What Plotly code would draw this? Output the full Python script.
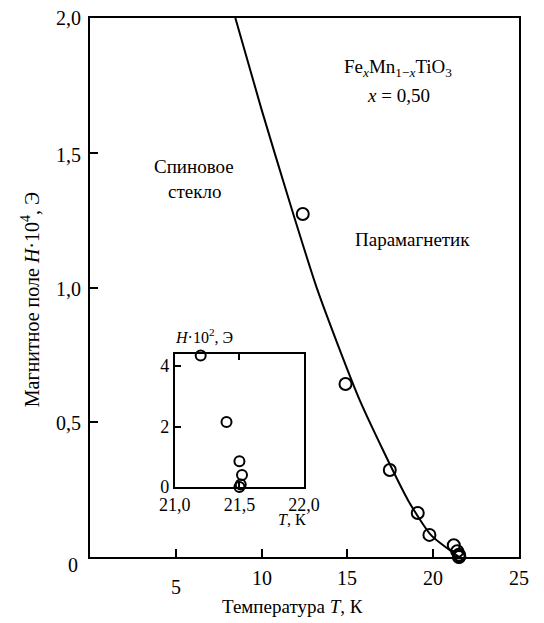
import plotly.graph_objects as go

# Fitted phase boundary H(T) (H in 10^4 Oe)
curve_T = [8.47, 10.0, 11.57, 13.26, 15.73, 18.54, 19.89, 21.35, 21.5]
curve_H = [2.0, 1.66, 1.33, 0.99, 0.58, 0.21, 0.08, 0.007, 0.0]

# Measured points, main panel (H in 10^4 Oe)
meas_T = [12.4, 14.89, 17.47, 19.1, 19.78]
meas_H = [1.273, 0.642, 0.323, 0.163, 0.082]

# Low-field points near T_f (H in 10^2 Oe), shown in the inset and in the main panel
low_T = [21.2, 21.4, 21.5, 21.52, 21.51, 21.5]
low_H = [4.35, 2.15, 0.85, 0.4, 0.08, 0.0]

x_ticks = [5, 10, 15, 20, 25]
x_ticktext = ["5", "10", "15", "20", "25"]
y_ticks = [0, 0.5, 1.0, 1.5, 2.0]
y_ticktext = ["0", "0,5", "1,0", "1,5", "2,0"]
inset_x_ticks = [21.0, 21.5, 22.0]
inset_x_ticktext = ["21,0", "21,5", "22,0"]
inset_y_ticks = [0, 2, 4]
inset_y_ticktext = ["0", "2", "4"]

W, H = 544, 623
L, R, T, B = 90, 9, 18, 66
PW, PH = W - L - R, H - T - B
FONT = "Liberation Serif, Times New Roman, serif"


def px(x, y):
    """Pixel position -> paper coordinates."""
    return (x - L) / PW, (H - B - y) / PH


fig = go.Figure()

fig.add_trace(go.Scatter(
    x=curve_T, y=curve_H, mode="lines", line=dict(color="black", width=2, shape="spline", smoothing=0.6),
    xaxis="x", yaxis="y", hoverinfo="skip", cliponaxis=True))

main_low_H = [v / 100 for v in low_H]
fig.add_trace(go.Scatter(
    x=meas_T + low_T, y=meas_H + main_low_H, mode="markers",
    marker=dict(symbol="circle-open", size=12, color="black", line=dict(width=2)),
    xaxis="x", yaxis="y", cliponaxis=False))

fig.add_trace(go.Scatter(
    x=low_T, y=low_H, mode="markers",
    marker=dict(symbol="circle-open", size=10, color="black", line=dict(width=2)),
    xaxis="x2", yaxis="y2", cliponaxis=False))

axis_common = dict(showgrid=False, zeroline=False, showline=True, linecolor="black",
                   linewidth=2, ticks="inside", tickcolor="black", tickwidth=1.5,
                   tickfont=dict(family=FONT, size=18, color="black"))

x0, x1 = px(178, 0)[0], px(312, 0)[0]
y0, y1 = px(0, 487)[1], px(0, 354)[1]

fig.update_layout(
    width=W, height=H,
    margin=dict(l=L, r=R, t=T, b=B),
    paper_bgcolor="white", plot_bgcolor="white",
    showlegend=False,
    font=dict(family=FONT, size=18, color="black"),
    xaxis=dict(axis_common, range=[0, 25], tickvals=x_ticks[:-1], showticklabels=False,
               ticklen=8, mirror=True),
    yaxis=dict(axis_common, range=[0, 2.0], tickvals=y_ticks[1:-1], showticklabels=False,
               ticklen=8, mirror=True),
    xaxis2=dict(axis_common, domain=[x0, x1], anchor="y2", range=[21.0, 22.0],
                tickvals=inset_x_ticks, ticktext=inset_x_ticktext, ticklen=6,
                mirror="ticks", tickfont=dict(family=FONT, size=18, color="black")),
    yaxis2=dict(axis_common, domain=[y0, y1], anchor="x2", range=[0, 4.4],
                tickvals=inset_y_ticks, ticktext=inset_y_ticktext, ticklen=6,
                mirror=True, tickfont=dict(family=FONT, size=18, color="black")),
)

ann = []

# Main-axis tick labels
x_label_y = [587, 578, 578, 578, 578]
for v, t, yy in zip(x_ticks, x_ticktext, x_label_y):
    ann.append(dict(x=v, xref="x", y=px(0, yy)[1], yref="paper", text=t, showarrow=False,
                    xanchor="center", yanchor="middle", font=dict(family=FONT, size=20)))
y_label_x = [80, 83, 83, 83, 83]
y_label_py = [565, 423, 289, 155, 18]
for t, xx, yy in zip(y_ticktext, y_label_x, y_label_py):
    ax, ay = px(xx, yy)
    ann.append(dict(x=ax, y=ay, xref="paper", yref="paper", text=t, showarrow=False,
                    xanchor="right", yanchor="middle", font=dict(family=FONT, size=20)))


def label(text, x, y, size=19, xanchor="center", angle=0):
    ax, ay = px(x, y)
    ann.append(dict(x=ax, y=ay, xref="paper", yref="paper", text=text, showarrow=False,
                    xanchor=xanchor, yanchor="middle", textangle=angle,
                    font=dict(family=FONT, size=size)))


label("Температура <i>T</i>, К", 300, 606)
label("Магнитное поле <i>H</i>·10<sup>4</sup>, Э", 28, 300, size=20, angle=-90)
label("Fe<sub><i>x</i></sub>Mn<sub>1−<i>x</i></sub>TiO<sub>3</sub>", 410, 68)
label("<i>x</i> = 0,50", 410, 96)
label("Спиновое", 198, 166)
label("стекло", 198, 191)
label("Парамагнетик", 425, 240)
label("<i>H</i>·10<sup>2</sup>, Э", 176, 336, size=16, xanchor="left")
label("<i>T</i>, К", 300, 519, size=16)

fig.update_layout(annotations=ann)

fig.write_html("out.html")
